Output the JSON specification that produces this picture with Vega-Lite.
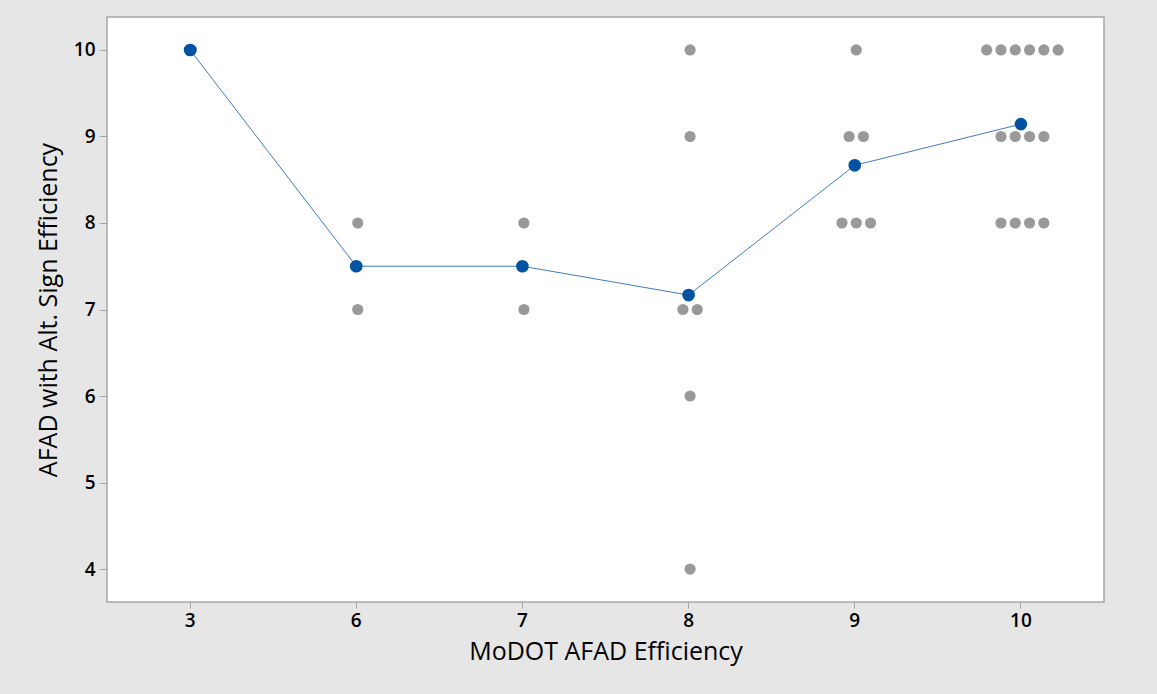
{
  "$schema": "https://vega.github.io/schema/vega-lite/v6.json",
  "width": 997,
  "height": 585,
  "autosize": {"type": "none"},
  "padding": {"left": 107, "top": 17, "right": 53, "bottom": 92},
  "background": "#e6e6e6",
  "config": {
    "view": {"fill": "white", "stroke": "#a6a6a6", "strokeWidth": 1.5},
    "font": "Open Sans",
    "axis": {
      "domain": false,
      "grid": false,
      "tickColor": "#a6a6a6",
      "tickSize": 7,
      "labelColor": "#000000",
      "labelFontSize": 19,
      "labelFontWeight": 600,
      "titleColor": "#000000",
      "titleFontSize": 25,
      "titleFontWeight": "normal",
      "labelFont": "Open Sans",
      "titleFont": "Open Sans"
    }
  },
  "data": {
    "values": [
      {"modot": 3, "alt": 10},
      {"modot": 6, "alt": 8},
      {"modot": 6, "alt": 7},
      {"modot": 7, "alt": 8},
      {"modot": 7, "alt": 7},
      {"modot": 8, "alt": 10},
      {"modot": 8, "alt": 9},
      {"modot": 8, "alt": 7},
      {"modot": 8, "alt": 7},
      {"modot": 8, "alt": 6},
      {"modot": 8, "alt": 4},
      {"modot": 9, "alt": 10},
      {"modot": 9, "alt": 9},
      {"modot": 9, "alt": 9},
      {"modot": 9, "alt": 8},
      {"modot": 9, "alt": 8},
      {"modot": 9, "alt": 8},
      {"modot": 10, "alt": 10},
      {"modot": 10, "alt": 10},
      {"modot": 10, "alt": 10},
      {"modot": 10, "alt": 10},
      {"modot": 10, "alt": 10},
      {"modot": 10, "alt": 10},
      {"modot": 10, "alt": 9},
      {"modot": 10, "alt": 9},
      {"modot": 10, "alt": 9},
      {"modot": 10, "alt": 9},
      {"modot": 10, "alt": 8},
      {"modot": 10, "alt": 8},
      {"modot": 10, "alt": 8},
      {"modot": 10, "alt": 8}
    ]
  },
  "encoding": {
    "x": {
      "field": "modot",
      "type": "ordinal",
      "sort": "ascending",
      "scale": {"type": "band", "paddingInner": 0, "paddingOuter": 0},
      "axis": {"labelAngle": 0, "tickSize": 6, "labelPadding": 3, "title": "MoDOT AFAD Efficiency", "titlePadding": 9}
    },
    "y": {
      "field": "alt",
      "type": "quantitative",
      "scale": {"domain": [3.619, 10.381], "nice": false, "zero": false},
      "axis": {"values": [4, 5, 6, 7, 8, 9, 10], "tickSize": 8, "labelPadding": 4, "title": "AFAD with Alt. Sign Efficiency", "titlePadding": 12}
    }
  },
  "layer": [
    {
      "transform": [
        {"window": [{"op": "row_number", "as": "rank"}], "groupby": ["modot", "alt"]},
        {"joinaggregate": [{"op": "count", "as": "n"}], "groupby": ["modot", "alt"]},
        {"calculate": "datum.rank - (datum.n + 1) / 2", "as": "slot"}
      ],
      "mark": {"type": "circle", "color": "#999999", "opacity": 1, "size": 125},
      "encoding": {
        "xOffset": {
          "field": "slot",
          "type": "quantitative",
          "scale": {"domain": [-5.81, 5.81], "range": [1.5, 167.67]}
        }
      }
    },
    {
      "mark": {"type": "line", "color": "#3d7cc4", "strokeWidth": 1},
      "encoding": {"y": {"aggregate": "mean", "field": "alt", "type": "quantitative"}}
    },
    {
      "mark": {"type": "circle", "color": "#0052a3", "opacity": 1, "size": 160},
      "encoding": {"y": {"aggregate": "mean", "field": "alt", "type": "quantitative"}}
    }
  ]
}
